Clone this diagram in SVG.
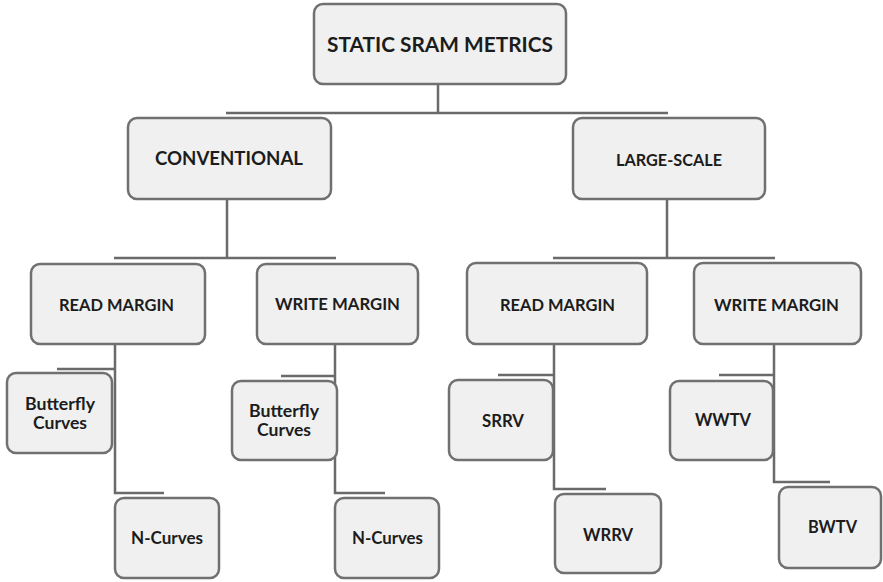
<svg xmlns="http://www.w3.org/2000/svg" width="883" height="582" viewBox="0 0 883 582">
<style>
.box{fill:#f0f0f0;stroke:#707070;stroke-width:2.5}
.sh{fill:none;stroke:#b0b0b0;stroke-width:1.5}
.t{font-family:Lato,"Open Sans","DejaVu Sans",sans-serif;font-weight:bold;fill:#1c1c1c;text-anchor:middle}
.c{fill:none;stroke:#6a6a6a;stroke-width:2.5}
</style>
<rect width="883" height="582" fill="#ffffff"/>
<g id="connectors">
<path class="c" d="M438,84 V113 M226,113 H668"/>
<path class="c" d="M227,199 V258 M114,258 H336"/>
<path class="c" d="M667,199 V258 M553,258 H775"/>
<path class="c" d="M115,344 V493 H164 M57,369 H115"/>
<path class="c" d="M335,344 V493 H385 M281,376 H335"/>
<path class="c" d="M554,344 V489 H606 M498,375 H554"/>
<path class="c" d="M774,344 V482 H830 M719,375 H774"/>
</g>
<g id="n-static">
<rect class="box" x="314" y="4" width="252" height="80" rx="9"/>
<text class="t" x="440" y="52" font-size="21" textLength="226" lengthAdjust="spacingAndGlyphs">STATIC SRAM METRICS</text>
</g>
<g id="n-conventional">
<rect class="box" x="128" y="118" width="203" height="81" rx="9"/>
<text class="t" x="229" y="165" font-size="18" textLength="148" lengthAdjust="spacingAndGlyphs">CONVENTIONAL</text>
</g>
<g id="n-largescale">
<rect class="box" x="573" y="118" width="192" height="81" rx="9"/>
<text class="t" x="669" y="166" font-size="17.5" textLength="106" lengthAdjust="spacingAndGlyphs">LARGE-SCALE</text>
</g>
<g id="n-read1">
<rect class="box" x="31" y="264" width="174" height="80" rx="9"/>
<text class="t" x="116.5" y="311" font-size="17.5" textLength="115" lengthAdjust="spacingAndGlyphs">READ MARGIN</text>
</g>
<g id="n-write1">
<rect class="box" x="257" y="264" width="161" height="80" rx="9"/>
<text class="t" x="337.5" y="310" font-size="17.5" textLength="125" lengthAdjust="spacingAndGlyphs">WRITE MARGIN</text>
</g>
<g id="n-read2">
<rect class="box" x="467" y="263" width="180" height="81" rx="9"/>
<text class="t" x="557.5" y="311" font-size="17.5" textLength="115" lengthAdjust="spacingAndGlyphs">READ MARGIN</text>
</g>
<g id="n-write2">
<rect class="box" x="694" y="263" width="167" height="81" rx="9"/>
<text class="t" x="776.5" y="311" font-size="17.5" textLength="125" lengthAdjust="spacingAndGlyphs">WRITE MARGIN</text>
</g>
<g id="n-butterfly1">
<rect class="box" x="7" y="373" width="105" height="80" rx="9"/>
<text class="t" x="60" y="410" font-size="16.5" textLength="70" lengthAdjust="spacingAndGlyphs">Butterfly</text>
<text class="t" x="60" y="429" font-size="16.5" textLength="54" lengthAdjust="spacingAndGlyphs">Curves</text>
</g>
<g id="n-ncurves1">
<rect class="box" x="115" y="498" width="104" height="80" rx="9"/>
<text class="t" x="167" y="544" font-size="16.5" textLength="72" lengthAdjust="spacingAndGlyphs">N-Curves</text>
</g>
<g id="n-butterfly2">
<rect class="box" x="232" y="381" width="105" height="79" rx="9"/>
<text class="t" x="284" y="417" font-size="16.5" textLength="70" lengthAdjust="spacingAndGlyphs">Butterfly</text>
<text class="t" x="284" y="436" font-size="16.5" textLength="54" lengthAdjust="spacingAndGlyphs">Curves</text>
</g>
<g id="n-ncurves2">
<rect class="box" x="335" y="498" width="104" height="80" rx="9"/>
<text class="t" x="387.5" y="544" font-size="16.5" textLength="71" lengthAdjust="spacingAndGlyphs">N-Curves</text>
</g>
<g id="n-srrv">
<rect class="box" x="449" y="380" width="104" height="80" rx="9"/>
<text class="t" x="503" y="427" font-size="16.5" textLength="42" lengthAdjust="spacingAndGlyphs">SRRV</text>
</g>
<g id="n-wrrv">
<rect class="box" x="555" y="494" width="106" height="79" rx="9"/>
<text class="t" x="608" y="541" font-size="16.5" textLength="50" lengthAdjust="spacingAndGlyphs">WRRV</text>
</g>
<g id="n-wwtv">
<rect class="box" x="670" y="381" width="103" height="79" rx="9"/>
<text class="t" x="723" y="426" font-size="16.5" textLength="56" lengthAdjust="spacingAndGlyphs">WWTV</text>
</g>
<g id="n-bwtv">
<rect class="box" x="779" y="487" width="102" height="81" rx="9"/>
<text class="t" x="832.5" y="533" font-size="16.5" textLength="49" lengthAdjust="spacingAndGlyphs">BWTV</text>
</g>
</svg>
